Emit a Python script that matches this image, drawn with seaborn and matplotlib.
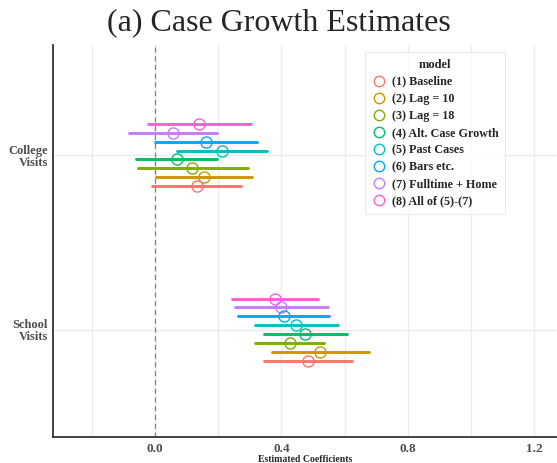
import pandas as pd
import seaborn as sns
import matplotlib.pyplot as plt
from matplotlib.lines import Line2D

terms = ["College\nVisits", "School\nVisits"]
models = ["(1) Baseline", "(2) Lag = 10", "(3) Lag = 18", "(4) Alt. Case Growth",
          "(5) Past Cases", "(6) Bars etc.", "(7) Fulltime + Home", "(8) All of (5)-(7)"]
colors = ["#F8766D", "#CD9600", "#7CAE00", "#00BE67",
          "#00BFC4", "#00A9FF", "#C77CFF", "#FF61CC"]

college_est = [0.133, 0.156, 0.119, 0.070, 0.213, 0.161, 0.056, 0.140]
college_lo = [-0.008, 0.005, -0.054, -0.059, 0.070, -0.001, -0.081, -0.022]
college_hi = [0.272, 0.307, 0.295, 0.196, 0.354, 0.322, 0.196, 0.303]

school_est = [0.483, 0.522, 0.428, 0.476, 0.447, 0.408, 0.400, 0.379]
school_lo = [0.344, 0.370, 0.317, 0.344, 0.316, 0.263, 0.253, 0.244]
school_hi = [0.622, 0.677, 0.536, 0.609, 0.578, 0.552, 0.548, 0.516]

# long form: lo / est / hi rows, median -> estimate, min/max -> interval
rows = []
for term, est, lo, hi in [(terms[0], college_est, college_lo, college_hi),
                          (terms[1], school_est, school_lo, school_hi)]:
    for i, m in enumerate(models):
        for v in (lo[i], est[i], hi[i]):
            rows.append({"term": term, "model": m, "value": v})
df = pd.DataFrame(rows)

sns.set_style("whitegrid")
plt.rcParams["font.family"] = ["Liberation Serif", "DejaVu Serif"]
plt.rcParams["font.weight"] = "bold"

fig, ax = plt.subplots(figsize=(5.57, 4.63), dpi=100)
fig.subplots_adjust(left=53 / 557, right=0.999, top=1 - 45 / 463, bottom=1 - 437 / 463)

ax.axvline(0, color="#808080", linestyle=(0, (4, 3)), linewidth=0.9, zorder=1)

sns.pointplot(
    data=df, x="value", y="term", hue="model",
    order=terms, hue_order=models[::-1], palette=colors[::-1],
    estimator="median", errorbar=lambda v: (v.min(), v.max()),
    dodge=0.356, linestyles="none", markers="o",
    markersize=8, markerfacecolor="none", markeredgewidth=1.0,
    err_kws={"linewidth": 2.1}, legend=False, ax=ax,
)

ax.set_xlim(-0.322, 1.27)
ax.set_ylim(1.615, -0.63)
ax.set_xticks([0.0, 0.4, 0.8, 1.2])
ax.set_xticklabels(["0.0", "0.4", "0.8", "1.2"])
ax.set_xticks([-0.2, 0.2, 0.6, 1.0], minor=True)
ax.grid(which="major", color="#EBEBEB", linewidth=1.0)
ax.grid(which="minor", axis="x", color="#EBEBEB", linewidth=1.0)
ax.tick_params(which="minor", length=0)
ax.tick_params(axis="both", which="major", length=2.5, width=0.8, color="#333333",
               labelcolor="#4D4D4D", labelsize=9.5, pad=1.5)
ax.tick_params(axis="y", pad=1)
for lab in ax.get_yticklabels():
    lab.set_horizontalalignment("right")
    lab.set_multialignment("right")
    lab.set_fontsize(9)
    lab.set_linespacing(1.0)

for side in ("top", "right"):
    ax.spines[side].set_visible(False)
for side in ("left", "bottom"):
    ax.spines[side].set_color("#333333")
    ax.spines[side].set_linewidth(1.3)

ax.set_ylabel("")
ax.set_xlabel("Estimated Coefficients", fontsize=7, fontweight="bold", labelpad=0.5)

handles = [Line2D([], [], linestyle="none", marker="o", markersize=7.5,
                  markerfacecolor="none", markeredgecolor=c, markeredgewidth=1.0)
           for c in colors]
leg = ax.legend(handles, models, title="model", loc="upper left",
                bbox_to_anchor=(0.619, 0.982), borderaxespad=0, frameon=True,
                fancybox=False, fontsize=8.7, title_fontsize=9, handletextpad=0.5,
                labelspacing=0.42, borderpad=0.55, handlelength=1.2)
leg.get_frame().set_edgecolor("#E5E5E5")
leg.get_frame().set_linewidth(0.8)
leg.get_title().set_fontweight("bold")

fig.text(0.5, 1 - 23 / 463, "(a) Case Growth Estimates", ha="center", va="center",
         fontsize=23, fontweight="normal")

fig.savefig("out.png", dpi=100)
